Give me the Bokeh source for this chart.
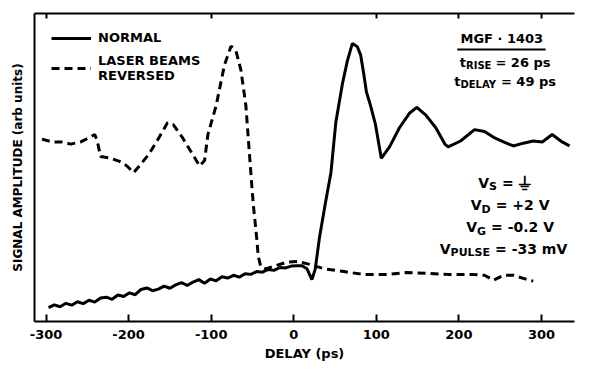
from bokeh.plotting import figure
from bokeh.models import (LinearAxis, FixedTicker, Label, Legend, LegendItem)
from bokeh.embed import file_html
from bokeh.resources import INLINE

# ---------------- data ----------------
# delay in ps, amplitude in arbitrary units (0 = bottom axis, 100 = top frame)
normal_delay = [-297, -290, -283, -276, -269, -262, -255, -248, -241, -234, -227, -220,
                -213, -206, -199, -192, -185, -178, -171, -164, -157, -150, -143, -136,
                -129, -122, -115, -108, -101, -94, -87, -80, -73, -66, -59, -52, -45,
                -38, -31, -24, -17, -10, -3, 4, 10, 16, 22, 26, 31, 38, 45, 51, 59, 65,
                71, 77, 81, 85, 88, 93, 99, 106, 116, 128, 140, 149, 160, 172, 183, 187, 202,
                219, 231, 242, 254, 266, 278, 290, 301, 313, 325, 334]
normal_amp = [4.5, 5.4, 4.8, 5.9, 5.3, 6.4, 5.8, 6.9, 6.3, 7.6, 7.9, 7.2,
              8.6, 8.1, 9.3, 8.7, 10.4, 10.9, 10.0, 10.5, 11.5, 10.8, 11.9, 12.6,
              11.7, 12.8, 13.6, 12.4, 13.8, 13.2, 14.5, 14.1, 15.0, 14.4, 15.5, 15.3, 16.2,
              16.0, 16.9, 16.6, 17.5, 17.4, 18.0, 18.1, 18.1, 17.1, 13.6, 17.0, 27.0, 38.0, 48.3, 64.8, 77.3, 84.7,
              90.3, 89.2, 86.5, 80.0, 74.5, 70.1, 63.9, 53.0, 56.7, 62.9, 67.6, 69.5, 67.0, 62.9, 57.6, 56.7, 58.6,
              62.3, 61.7, 59.8, 58.3, 57.0, 57.9, 58.6, 58.3, 60.7, 58.3, 57.0]

reversed_delay = [-305, -293, -281, -270, -258, -247, -241, -238, -234, -222, -211, -202,
                  -194, -187, -175, -163, -153, -146, -135, -123, -114, -108, -104, -94,
                  -84, -76, -70, -64, -58, -52, -49, -45, -43, -40, -34, -22, -8, 5, 20,
                  37, 61, 84, 113, 136, 163, 187, 214, 231, 242, 254, 266, 278, 290]
reversed_amp = [59.2, 58.3, 58.3, 57.6, 58.3, 59.8, 60.7, 58.6, 53.6, 53.0, 52.0, 50.5,
                48.3, 50.5, 54.5, 59.8, 64.5, 63.9, 59.8, 54.5, 50.5, 52.3, 60.7, 70.1,
                83.2, 89.4, 87.9, 81.6, 70.1, 48.3, 38.0, 27.4, 21.2, 17.8, 17.1, 18.1, 19.3, 19.5, 18.5,
                17.1, 16.2, 15.3, 15.3, 15.9, 15.6, 15.3, 15.3, 15.0, 13.4, 15.0, 15.0, 14.0, 13.1]

series_names = ["NORMAL", "LASER BEAMS\nREVERSED"]
x_ticks = [-300, -200, -100, 0, 100, 200, 300]
x_tick_labels = ["-300", "-200", "-100", "0", "100", "200", "300"]
top_ticks = [-300, -100, 100, 200, 300]
x_title = "DELAY (ps)"
y_title = "SIGNAL AMPLITUDE (arb units)"

FONT = "DejaVu Sans"

p = figure(width=578, height=366, x_range=(-314, 340), y_range=(0, 100),
           output_backend="svg", toolbar_location=None,
           x_axis_location=None, y_axis_location=None,
           min_border_left=34, min_border_right=4, min_border_top=13, min_border_bottom=45)
p.grid.visible = False
p.outline_line_color = None
p.background_fill_color = "white"
p.border_fill_color = "white"

def style_axis(ax):
    ax.axis_line_width = 2
    ax.axis_line_color = "black"
    ax.major_tick_line_width = 2
    ax.major_tick_line_color = "black"
    ax.major_tick_in = 7
    ax.major_tick_out = 0
    ax.minor_tick_line_color = None
    ax.major_label_text_font = FONT
    ax.major_label_text_font_style = "bold"
    ax.major_label_text_color = "black"
    ax.axis_label_text_font = FONT
    ax.axis_label_text_font_style = "bold"
    ax.axis_label_text_color = "black"

xb = LinearAxis(ticker=FixedTicker(ticks=x_ticks), axis_label=x_title)
style_axis(xb)
xb.major_label_overrides = {t: l for t, l in zip(x_ticks, x_tick_labels)}
xb.major_label_text_font_size = "13px"
xb.major_label_standoff = 8
xb.axis_label_text_font_size = "13px"
xb.axis_label_standoff = 4
p.add_layout(xb, "below")

xt = LinearAxis(ticker=FixedTicker(ticks=top_ticks))
style_axis(xt)
xt.major_tick_in = 5
xt.major_label_text_font_size = "1px"
xt.major_label_text_color = None
xt.major_label_standoff = 0
p.add_layout(xt, "above")

yl = LinearAxis(ticker=FixedTicker(ticks=[]), axis_label=y_title)
style_axis(yl)
yl.major_label_standoff = 0
yl.major_label_text_font_size = "1px"
yl.major_label_text_color = None
yl.axis_label_text_font_size = "12px"
yl.axis_label_standoff = 10
p.add_layout(yl, "left")

r1 = p.line(normal_delay, normal_amp, line_color="black", line_width=3)
r2 = p.line(reversed_delay, reversed_amp, line_color="black", line_width=3,
            line_dash="8 5")

legend = Legend(items=[LegendItem(label=series_names[0], renderers=[r1]),
                       LegendItem(label=series_names[1], renderers=[r2])],
                location="top_left", margin=17, padding=0, spacing=8,
                glyph_width=40, glyph_height=14, label_height=14,
                label_standoff=7, border_line_color=None,
                background_fill_alpha=0)
legend.label_text_font = FONT
legend.label_text_font_style = "bold"
legend.label_text_font_size = "13px"
legend.label_text_color = "black"
legend.label_text_line_height = 1.0
p.add_layout(legend)

# approximate DejaVu Sans Bold advance widths (em)
W = {"A": .774, "B": .762, "D": .830, "E": .683, "G": .821, "I": .372, "L": .637,
     "P": .733, "R": .770, "S": .720, "U": .812, "V": .774, "Y": .724, "=": .838,
     "+": .838, "-": .415, ".": .380, "m": 1.042, "p": .716, "s": .595, "t": .478,
     " ": .348, "⏚": .838}
for d in "0123456789":
    W[d] = .696

def tw(s, size):
    return sum(W.get(c, .7) for c in s) * size

def rich(x, y, parts):
    """parts: list of (text, font px, y offset px, gap px before)"""
    total = sum(tw(t, s) + g for t, s, dy, g in parts)
    off = -total / 2
    for t, s, dy, g in parts:
        off += g
        p.add_layout(Label(x=x, y=y, x_offset=off, y_offset=dy, text=t,
                           text_font=FONT, text_font_style="bold",
                           text_font_size=f"{s}px", text_color="black",
                           text_align="left", text_baseline="middle"))
        off += tw(t, s)

p.add_layout(Label(x=252, y=92, text="MGF · 1403", text_font=FONT,
                   text_font_style="bold", text_font_size="13px", text_color="black",
                   text_align="center", text_baseline="middle"))
p.segment(x0=[198], y0=[88.3], x1=[305], y1=[88.3], line_color="black", line_width=2)

rich(256, 84, [("t", 13, 0, 0), ("RISE", 10, -3, 0), ("= 26 ps", 13, 0, 4)])
rich(256, 78, [("t", 13, 0, 0), ("DELAY", 10, -3, 0), ("= 49 ps", 13, 0, 4)])

rich(257, 45, [("V", 14, 0, 0), ("S", 11, -4, 0), ("=", 14, 0, 5), ("⏚", 19, 0, 4)])
rich(262, 37.8, [("V", 14, 0, 0), ("D", 11, -4, 0), ("= +2 V", 14, 0, 5)])
rich(262, 30.6, [("V", 14, 0, 0), ("G", 11, -4, 0), ("= -0.2 V", 14, 0, 5)])
rich(254, 23.6, [("V", 14, 0, 0), ("PULSE", 11, -4, 0), ("= -33 mV", 14, 0, 5)])

open("out.html", "w").write(file_html(p, INLINE))
